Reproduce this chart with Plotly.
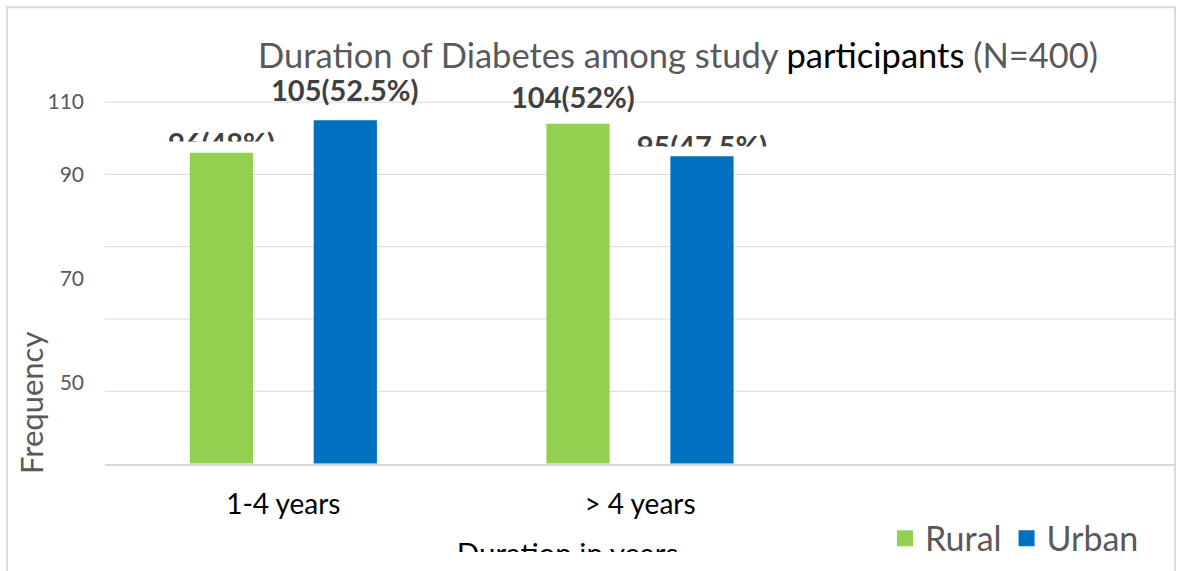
import plotly.graph_objects as go

# --- data -------------------------------------------------------------
CATEGORIES = ["1-4 years", "> 4 years"]
RURAL = [96, 104]
URBAN = [105, 95]
TOTAL_PER_GROUP = 200
TICK_LABELS = ["110", "90", "70", "50"]
GRID_VALUES = [30, 50, 70, 90, 110]

# --- styling / geometry ---------------------------------------------------
FONT = "Lato"
GREEN = "#92D050"
BLUE = "#0070C0"
GREY_TEXT = "#595959"
LABEL_TEXT = "#404040"
GRID = "#D9D9D9"
CLEAR = "rgba(0,0,0,0)"

W, H = 1178, 571
M_L, M_R, M_T, M_B = 105, 3, 66, 16
AXIS_PX = 466          # pixel row of the value axis base
Y_MIN, Y_MAX = 10, 120
TICK_POS = [110, 90, 61.3, 32.4]   # where the y tick labels sit

BARGAP = 0.305
BARGROUPGAP = 0.49
SLOT = (1 - BARGAP) / 4             # half of one bar slot, in category units

# half-hidden value labels: (series, category index, lower clip row in px)
CLIPPED_LABELS = [("Rural", 0, 142), ("Urban", 1, 147)]
LABEL_DROP_PX = 10

area_w = W - M_L - M_R
area_h = H - M_T - M_B
bottom_px = H - M_B
px_per_unit = (AXIS_PX - M_T) / (Y_MAX - Y_MIN)
main_dom0 = (bottom_px - AXIS_PX) / area_h


def px_x(px):
    return (px - M_L) / area_w


def px_y(px):
    return (bottom_px - px) / area_h


def label(v):
    return f"{v}({v / TOTAL_PER_GROUP * 100:g}%)"


LABEL_FONT = dict(family=FONT, size=29, color=LABEL_TEXT, weight="bold")
SERIES = {"Rural": (RURAL, GREEN), "Urban": (URBAN, BLUE)}

fig = go.Figure()

for name, (vals, col) in SERIES.items():
    fig.add_trace(go.Bar(x=CATEGORIES, y=vals, name=name, marker_color=col,
                         marker_line_width=0, showlegend=False, hoverinfo="skip"))

# each half-hidden label lives in its own thin strip whose lower edge clips it
extra_axes = {}
for k, (series, idx, cut_px) in enumerate(CLIPPED_LABELS, start=2):
    for name, (vals, _) in SERIES.items():
        texts = [label(v) if (name == series and i == idx) else ""
                 for i, v in enumerate(vals)]
        fig.add_trace(go.Bar(x=CATEGORIES, y=vals, xaxis=f"x{k}", yaxis=f"y{k}",
                             text=texts, textposition="outside",
                             textfont=LABEL_FONT, constraintext="none",
                             cliponaxis=True,
                             marker=dict(color=CLEAR, line=dict(width=0, color=CLEAR)),
                             showlegend=False, hoverinfo="skip"))
    lo = Y_MIN + (AXIS_PX + LABEL_DROP_PX - cut_px) / px_per_unit
    hi = Y_MIN + (AXIS_PX + LABEL_DROP_PX - M_T) / px_per_unit
    extra_axes[f"xaxis{k}"] = dict(type="category", categoryarray=CATEGORIES,
                                   range=[-0.5, 2.5], domain=[0, 1],
                                   anchor=f"y{k}", visible=False)
    extra_axes[f"yaxis{k}"] = dict(range=[lo, hi], domain=[px_y(cut_px), 1],
                                   anchor=f"x{k}", visible=False)

# axis title, cut off by the lower edge of the drawing area
t = len(CLIPPED_LABELS) + 2
fig.add_trace(go.Scatter(x=[px_x(567.5)], y=[-5], xaxis=f"x{t}", yaxis=f"y{t}",
                         mode="text", text=["Duration in years"],
                         textposition="middle center",
                         textfont=dict(family=FONT, size=29.5, color="#000000"),
                         cliponaxis=True, showlegend=False, hoverinfo="skip"))
extra_axes[f"xaxis{t}"] = dict(range=[0, 1], domain=[0, 1], anchor=f"y{t}",
                               visible=False)
extra_axes[f"yaxis{t}"] = dict(range=[0, 40], domain=[0, 40 / area_h],
                               anchor=f"x{t}", visible=False)

# legend entries
for name, (_, col) in SERIES.items():
    fig.add_trace(go.Scatter(x=[None], y=[None], mode="markers", name=name,
                             marker=dict(symbol="square", size=19, color=col)))

# value labels above the taller bars
fig.add_annotation(x=0 + SLOT, y=URBAN[0], xref="x", yref="y", text=label(URBAN[0]),
                   showarrow=False, yshift=31, yanchor="middle", font=LABEL_FONT)
fig.add_annotation(x=1 - SLOT, y=RURAL[1], xref="x", yref="y", text=label(RURAL[1]),
                   showarrow=False, yshift=27, xshift=-5, yanchor="middle",
                   font=LABEL_FONT)

# y axis title
fig.add_annotation(x=px_x(31), y=px_y(405), xref="paper", yref="paper",
                   text="Frequency", showarrow=False, textangle=-90,
                   xanchor="center", yanchor="middle",
                   font=dict(family=FONT, size=31, color=GREY_TEXT))

# horizontal gridlines
for g in GRID_VALUES:
    fig.add_shape(type="line", xref="paper", yref="y", x0=0, x1=1, y0=g, y1=g,
                  line=dict(color=GRID, width=1), layer="below")

# outer frame
fig.add_shape(type="rect", xref="paper", yref="paper",
              x0=px_x(7), x1=1.0, y0=-0.2, y1=px_y(7),
              line=dict(color=GRID, width=2), fillcolor=CLEAR)

title_html = ("Duration of Diabetes among study "
              "<span style='color:#000000'>participants</span> (N=400)")

fig.update_layout(
    width=W, height=H,
    margin=dict(l=M_L, r=M_R, t=M_T, b=M_B),
    paper_bgcolor="white", plot_bgcolor=CLEAR,
    barmode="group", bargap=BARGAP, bargroupgap=BARGROUPGAP,
    title=dict(text=title_html, x=678 / W, xanchor="center", xref="container",
               y=1 - 56 / H, yanchor="middle", yref="container",
               font=dict(family=FONT, size=34.5, color=GREY_TEXT)),
    xaxis=dict(type="category", categoryarray=CATEGORIES, range=[-0.5, 2.5],
               domain=[0, 1], anchor="y", showgrid=False, zeroline=False,
               showline=True, linecolor=GRID, linewidth=2, ticks="",
               tickfont=dict(family=FONT, size=28, color="#000000"),
               ticklabelstandoff=15),
    yaxis=dict(range=[Y_MIN, Y_MAX], domain=[main_dom0, 1], anchor="x",
               tickmode="array", tickvals=TICK_POS, ticktext=TICK_LABELS,
               showgrid=False, zeroline=False, showline=False, ticks="",
               tickfont=dict(family=FONT, size=21, color=GREY_TEXT),
               ticklabelstandoff=20),
    legend=dict(orientation="h", x=0.971, xanchor="right", y=px_y(541.5),
                yanchor="middle", font=dict(family=FONT, size=34, color=GREY_TEXT),
                bgcolor=CLEAR, itemsizing="trace"),
    showlegend=True,
    **extra_axes,
)

fig.write_html("out.html")
